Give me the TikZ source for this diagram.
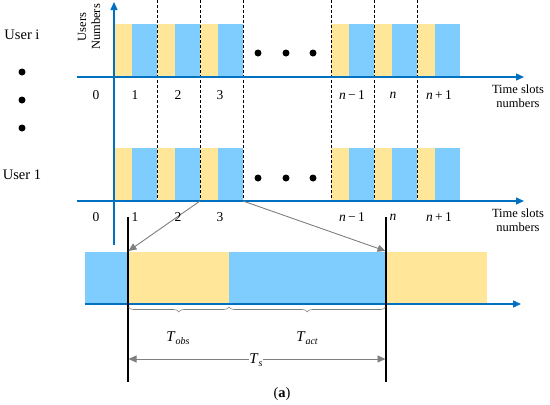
\documentclass[tikz,border=0pt]{standalone}
\usepackage{fontspec}
\setmainfont{Liberation Serif}
\usetikzlibrary{arrows.meta,decorations.pathreplacing}
\definecolor{ylw}{HTML}{FFE699}
\definecolor{blu}{HTML}{7FCDFF}
\definecolor{axb}{HTML}{0070C0}
\definecolor{gry}{HTML}{7F7F7F}
\begin{document}
\begin{tikzpicture}[x=1pt,y=-1pt,
  axis/.style={axb, line width=1.3pt, -{Triangle[length=8pt,width=7pt]}},
  slotline/.style={densely dashed, line width=0.6pt, black},
  gryarrow/.style={gry, line width=0.9pt, -{Triangle[length=8pt,width=7pt]}},
  blk/.style={black, line width=1.1pt},
  num/.style={font=\fontsize{13.5}{15}\selectfont, inner sep=0pt},
  tlbl/.style={font=\fontsize{15}{17}\selectfont, inner sep=0pt},
  usr/.style={font=\fontsize{14.5}{17}\selectfont, inner sep=0pt},
  axlbl/.style={font=\fontsize{12.5}{14}\selectfont, align=center, inner sep=0pt},
  dotm/.style={black},
  brc/.style={gry, line width=0.6pt, decorate, decoration={brace, mirror, amplitude=5pt}}
]
\useasboundingbox (0,0) rectangle (550,405);
% bars of the two users
\foreach \s in {114,157,200,331,374,417}{
  \fill[ylw] (\s,24) rectangle ++(18,53);
  \fill[blu] (\s+18,24) rectangle (\s+43,77);
  \fill[ylw] (\s,148) rectangle ++(18,53);
  \fill[blu] (\s+18,148) rectangle (\s+43,201);
}
% slot boundaries
\foreach \x in {157,200,243,331,374,417}{
  \draw[slotline] (\x,0) -- (\x,201);
}
% axes
\draw[axis] (114,245) -- (114,2);
\draw[axis] (77,77) -- (524,77);
\draw[axis] (77,201) -- (524,201);
% zoomed slot
\fill[blu] (85,252) rectangle (128,304);
\fill[ylw] (128,252) rectangle (229,304);
\fill[blu] (229,252) rectangle (386,304);
\fill[ylw] (386,252) rectangle (487,304);
\draw[axis] (85,304) -- (521,304);
% black boundary lines
\coordinate (bA) at (128,217);
\coordinate (bAe) at (128,382);
\coordinate (bB) at (386,217);
\coordinate (bBe) at (386,382);
\draw[blk] (bA) -- (bAe);
\draw[blk] (bB) -- (bBe);
% gray zoom arrows
\coordinate (s1) at (200,201);
\coordinate (t1) at (128.5,251);
\coordinate (s2) at (243,201);
\coordinate (t2) at (385.5,251);
\draw[gryarrow] (s1) -- (t1);
\draw[gryarrow] (s2) -- (t2);
% braces
\coordinate (br0) at (128.5,307);
\coordinate (br1) at (229,307);
\coordinate (br2) at (385.5,307);
\draw[brc] (br0) -- (br1);
\draw[brc] (br1) -- (br2);
\node[tlbl] (tobs) at (178,338) {\textit{T}\raisebox{-0.45ex}{\fontsize{10}{11}\selectfont\itshape obs}};
\node[tlbl] (tact) at (307,338) {\textit{T}\raisebox{-0.45ex}{\fontsize{10}{11}\selectfont\itshape act}};
% Ts arrow
\coordinate (ts0) at (128.5,359);
\coordinate (ts1) at (385.5,359);
\draw[gry, line width=0.9pt, {Triangle[length=8pt,width=7pt]}-{Triangle[length=8pt,width=7pt]}] (ts0) -- (ts1);
\node[tlbl, fill=white, inner sep=0.8pt] (ts) at (256,360) {\textit{T}\raisebox{-0.45ex}{\fontsize{10}{11}\selectfont\itshape s}};
% user labels and dots
\node[usr] (ui) at (22,35) {User i};
\node[usr] (u1) at (22,175) {User 1};
\foreach \y in {72,100,128}{ \fill[dotm] (22,\y) circle (3.5); }
\foreach \x in {258,286,313}{
  \fill[dotm] (\x,53) circle (3.5);
  \fill[dotm] (\x,178) circle (3.5);
}
% axis labels
\node[axlbl, rotate=90] (yl) at (89,27) {Users\\Numbers};
\node[axlbl] (xl1) at (518,96) {Time slots\\numbers};
\node[axlbl] (xl2) at (518,220) {Time slots\\numbers};
% slot numbers
\foreach \y/\r in {95/a,217/b}{
  \node[num] (z\r) at (96,\y) {0};
  \node[num] (o\r) at (135,\y) {1};
  \node[num] (w\r) at (178,\y) {2};
  \node[num] (h\r) at (220,\y) {3};
  \node[num] (m\r) at (352,\y) {\textit{n}\,−\,1};
  \node[num] (n\r) at (393,\y) {\textit{n}};
  \node[num] (p\r) at (439,\y) {\textit{n}\,+\,1};
}
\node[font=\fontsize{14.5}{16}\selectfont, inner sep=0pt] (cap) at (282,394) {(\textbf{a})};
\end{tikzpicture}
\end{document}
